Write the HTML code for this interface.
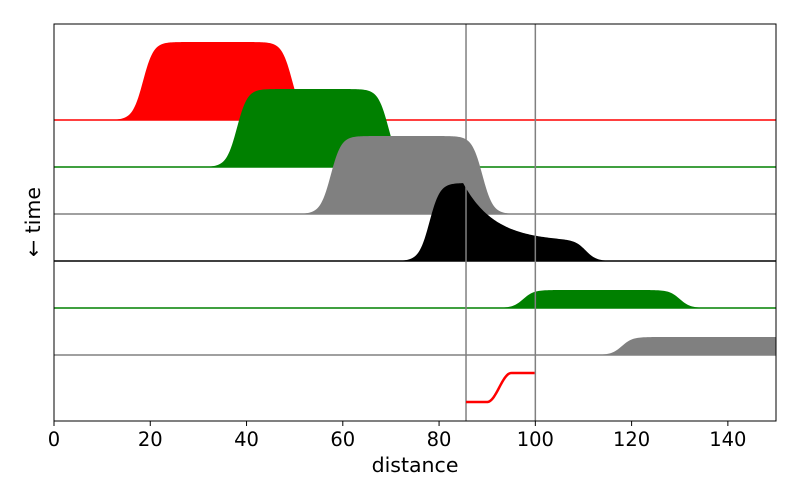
<!DOCTYPE html>
<html><head><meta charset="utf-8"><style>
body{margin:0;background:#fff;}
svg{display:block;font-family:"DejaVu Sans","Liberation Sans",sans-serif;}
</style></head><body>
<svg id="chart" width="800" height="500"></svg>
<script>
const riseCenters=[18.5,38,57.5,78,97.5,118];
const fallCenters=[49.5,69.5,89,110.5,130,160];
const heights=[78,78,78,78,18,18];
const decays=[0,0,0,0.75,0,0];
const colors=['red','green','gray','black','green','gray'];
const xTicks=[0,20,40,60,80,100,120,140];
const vlines=[85.6,100];
const redLineX=[85.6,90,95,100];
const redLineY=[0,0,1,1];
const NS='http://www.w3.org/2000/svg';
const svg=document.getElementById('chart');
const X0=54,X1=776,Y0=24,Y1=421;
const xs=v=>X0+(v-0)/150*(X1-X0);
const base=i=>120+47*i;
function mk(t,a,p){const e=document.createElementNS(NS,t);for(const k in a)e.setAttribute(k,a[k]);(p||svg).appendChild(e);return e;}
const sig=z=>1/(1+Math.exp(-z));
const clip=mk('clipPath',{id:'cp'});mk('rect',{x:X0,y:Y0,width:X1-X0,height:Y1-Y0},clip);
const g=mk('g',{'clip-path':'url(#cp)'});

for(let i=0;i<heights.length;i++){
  let pts=[];
  for(let v=0;v<=150;v+=0.25){
    let f=sig((v-riseCenters[i])/1.1)*(1-sig((v-fallCenters[i])/1.1));
    if(decays[i]>0&&v>85) f*= (1-decays[i])+decays[i]*Math.exp(-(v-85)/6.5);
    pts.push(xs(v).toFixed(2)+','+(base(i)-heights[i]*f).toFixed(2));
  }
  const p=mk('polygon',{points:xs(0)+','+base(i)+' '+pts.join(' ')+' '+xs(150)+','+base(i),fill:colors[i]},g);
  
  const l=mk('line',{x1:X0,x2:X1,y1:base(i),y2:base(i),stroke:colors[i],'stroke-width':1.5},g);
  
}
vlines.forEach((v,i)=>{const l=mk('line',{x1:xs(v),x2:xs(v),y1:Y0,y2:Y1,stroke:'gray','stroke-width':1.5});
});
let rp=[];
for(let v=redLineX[0];v<=redLineX[3];v+=0.25){
  let f=v<redLineX[1]?0:v>redLineX[2]?1:(1-Math.cos(Math.PI*(v-redLineX[1])/(redLineX[2]-redLineX[1])))/2;
  rp.push(xs(v).toFixed(2)+','+(402-29*f).toFixed(2));
}
const rl=mk('polyline',{points:rp.join(' '),fill:'none',stroke:'red','stroke-width':2.5});

const fr=mk('rect',{x:X0,y:Y0,width:X1-X0,height:Y1-Y0,fill:'none',stroke:'black','stroke-width':1});

xTicks.forEach(t=>{
  const l=mk('line',{x1:xs(t),x2:xs(t),y1:Y1,y2:Y1+5,stroke:'black'});
  
  const tx=mk('text',{x:xs(t),y:Y1+25,'text-anchor':'middle','font-size':19.5});tx.textContent=t;
  
});
const xt=mk('text',{x:415,y:472,'text-anchor':'middle','font-size':20.5});xt.textContent='distance';

const yt=mk('text',{x:40,y:222,'text-anchor':'middle','font-size':20.5,transform:'rotate(-90 40 222)'});yt.textContent='← time';

</script>
</body></html>
